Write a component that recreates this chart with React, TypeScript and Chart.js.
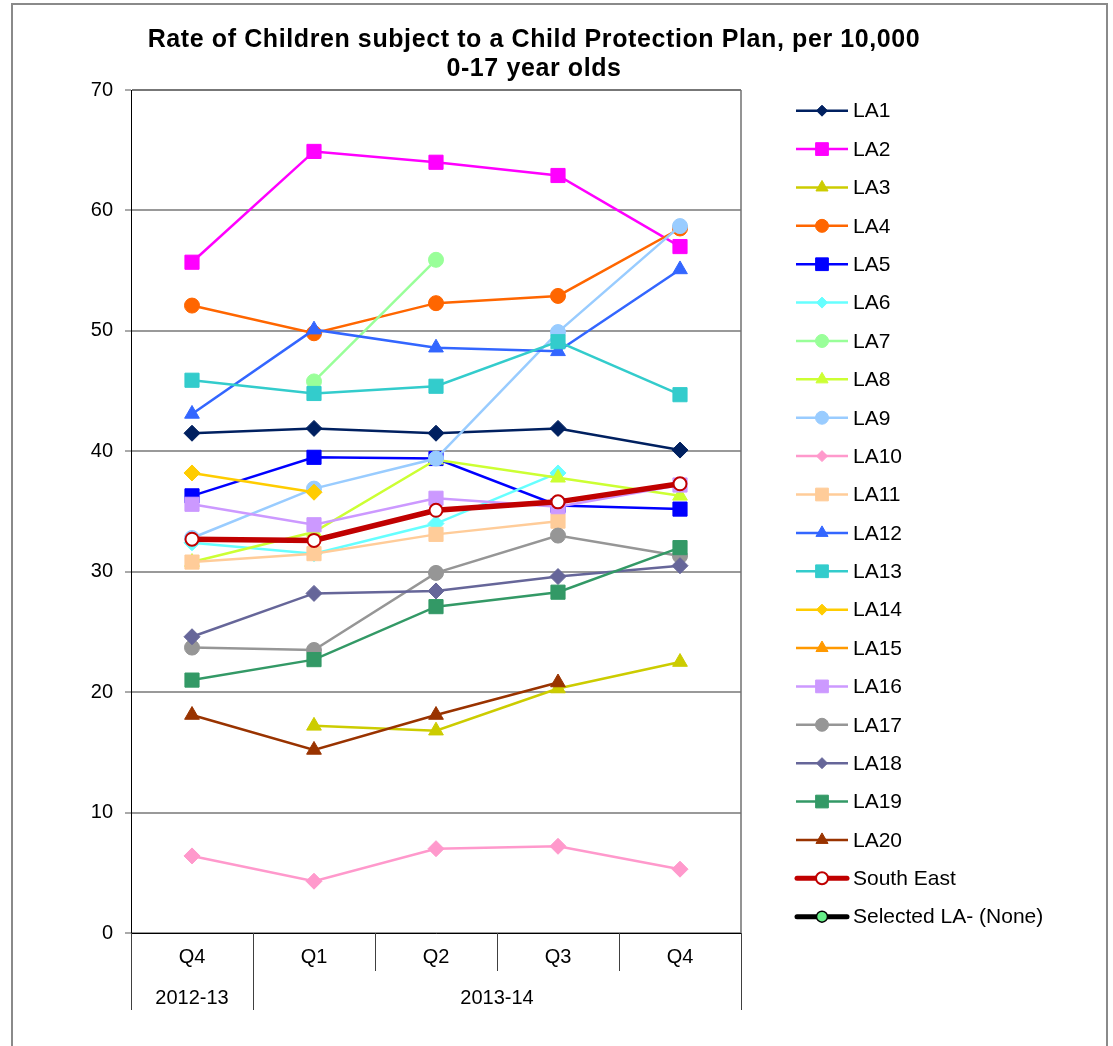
import React, { useEffect, useRef } from 'react';
import { Chart, registerables } from 'chart.js';

Chart.register(...registerables);

// ---------- DATA ----------
const categories = ['Q4', 'Q1', 'Q2', 'Q3', 'Q4'];
const yearGroups = ['2012-13', '2013-14'];
const yearSpans = [1, 4];
const titleLines = [
  'Rate of Children subject to a Child Protection Plan, per 10,000',
  '0-17 year olds',
];
const yMin = 0;
const yMax = 70;
const yStep = 10;

const seriesNames = [
  'LA1', 'LA2', 'LA3', 'LA4', 'LA5', 'LA6', 'LA7', 'LA8', 'LA9', 'LA10',
  'LA11', 'LA12', 'LA13', 'LA14', 'LA15', 'LA16', 'LA17', 'LA18', 'LA19', 'LA20',
  'South East', 'Selected LA- (None)',
];

const la1 = [41.5, 41.9, 41.5, 41.9, 40.1];
const la2 = [55.7, 64.9, 64.0, 62.9, 57.0];
const la3 = [null, 17.2, 16.8, 20.3, 22.5];
const la4 = [52.1, 49.8, 52.3, 52.9, 58.5];
const la5 = [36.3, 39.5, 39.4, 35.5, 35.2];
const la6 = [32.4, 31.5, 34.0, 38.2, null];
const la7 = [null, 45.8, 55.9, null, null];
const la8 = [30.8, 33.3, 39.3, 37.8, 36.3];
const la9 = [32.8, 36.9, 39.4, 49.9, 58.7];
const la10 = [6.4, 4.3, 7.0, 7.2, 5.3];
const la11 = [30.8, 31.5, 33.1, 34.2, null];
const la12 = [43.1, 50.1, 48.6, 48.3, 55.1];
const la13 = [45.9, 44.8, 45.4, 49.1, 44.7];
const la14 = [38.2, 36.6, null, null, null];
const la15 = [null, null, null, null, null];
const la16 = [35.6, 33.9, 36.1, 35.4, 37.2];
const la17 = [23.7, 23.5, 29.9, 33.0, 31.3];
const la18 = [24.6, 28.2, 28.4, 29.6, 30.5];
const la19 = [21.0, 22.7, 27.1, 28.3, 32.0];
const la20 = [18.1, 15.2, 18.1, 20.8, null];
const southEast = [32.7, 32.6, 35.1, 35.8, 37.3];
const selectedLA = [null, null, null, null, null];

const seriesValues = [
  la1, la2, la3, la4, la5, la6, la7, la8, la9, la10,
  la11, la12, la13, la14, la15, la16, la17, la18, la19, la20,
  southEast, selectedLA,
];

// ---------- STYLES ----------
const seriesColors = [
  '#002060', '#FF00FF', '#CCCC00', '#FF6600', '#0000FF', '#66FFFF', '#99FF99', '#CCFF33', '#99CCFF', '#FF99CC',
  '#FFCC99', '#3366FF', '#33CCCC', '#FFCC00', '#FF9900', '#CC99FF', '#969696', '#666699', '#339966', '#993300',
  '#C00000', '#000000',
];
const seriesMarkers = [
  'rectRot', 'rect', 'triangle', 'circle', 'rect', 'rectRot', 'circle', 'triangle', 'circle', 'rectRot',
  'rect', 'triangle', 'rect', 'rectRot', 'triangle', 'rect', 'circle', 'rectRot', 'rect', 'triangle',
  'circle', 'circle',
];
const plotRadius: Record<string, number> = { circle: 7.5, rect: 10, rectRot: 8, triangle: 8.5 };
const legendRadius: Record<string, number> = { circle: 6.5, rect: 9, rectRot: 5.5, triangle: 7 };

const FONT = '"Liberation Sans", Arial, Helvetica, sans-serif';
const W = 1113;
const H = 1046;
const PLOT = { left: 131, top: 90, right: 741, bottom: 933 };

function drawMarker(
  ctx: CanvasRenderingContext2D, style: string, x: number, y: number, r: number,
  fill: string, stroke: string, lw: number,
) {
  ctx.beginPath();
  if (style === 'circle') {
    ctx.arc(x, y, r, 0, Math.PI * 2);
  } else if (style === 'rect') {
    const s = r * Math.SQRT1_2;
    ctx.rect(x - s, y - s, 2 * s, 2 * s);
  } else if (style === 'rectRot') {
    ctx.moveTo(x - r, y);
    ctx.lineTo(x, y - r);
    ctx.lineTo(x + r, y);
    ctx.lineTo(x, y + r);
    ctx.closePath();
  } else {
    ctx.moveTo(x, y - r);
    ctx.lineTo(x + r * 0.866, y + r / 2);
    ctx.lineTo(x - r * 0.866, y + r / 2);
    ctx.closePath();
  }
  ctx.fillStyle = fill;
  ctx.fill();
  if (lw > 0) {
    ctx.lineWidth = lw;
    ctx.strokeStyle = stroke;
    ctx.stroke();
  }
}

const decorPlugin = {
  id: 'decor',
  beforeDraw(chart: any) {
    const ctx: CanvasRenderingContext2D = chart.ctx;
    ctx.save();
    ctx.fillStyle = '#ffffff';
    ctx.fillRect(0, 0, chart.width, chart.height);
    ctx.strokeStyle = '#8a8a8a';
    ctx.lineWidth = 2;
    ctx.strokeRect(12, 4, 1095, chart.height + 20);
    ctx.restore();
  },
  afterDraw(chart: any) {
    const ctx: CanvasRenderingContext2D = chart.ctx;
    const area = chart.chartArea;
    const xs = chart.scales.x;
    ctx.save();

    // plot area right border
    ctx.strokeStyle = '#707070';
    ctx.lineWidth = 1.5;
    ctx.beginPath();
    ctx.moveTo(area.right, area.top);
    ctx.lineTo(area.right, area.bottom);
    ctx.stroke();

    // title
    ctx.fillStyle = '#000';
    ctx.font = `bold 25px ${FONT}`;
    ctx.textAlign = 'center';
    ctx.textBaseline = 'alphabetic';
    (ctx as any).letterSpacing = '0.6px';
    ctx.fillText(titleLines[0], 534, 47);
    ctx.fillText(titleLines[1], 534, 76);
    (ctx as any).letterSpacing = '0px';

    // category separators & year groups
    const step = xs.getPixelForValue(1) - xs.getPixelForValue(0);
    const edges: number[] = [0];
    let acc = 0;
    yearSpans.forEach((s) => { acc += s; edges.push(acc); });
    ctx.strokeStyle = '#404040';
    ctx.lineWidth = 1;
    for (let i = 0; i <= categories.length; i++) {
      const x = Math.round(xs.getPixelForValue(i) - step / 2) + 0.5;
      const long = edges.includes(i);
      ctx.beginPath();
      ctx.moveTo(x, area.bottom);
      ctx.lineTo(x, area.bottom + (long ? 77 : 38));
      ctx.stroke();
    }
    ctx.font = `20px ${FONT}`;
    ctx.textBaseline = 'middle';
    ctx.textAlign = 'center';
    ctx.fillStyle = '#000';
    let start = 0;
    yearGroups.forEach((g, gi) => {
      const end = start + yearSpans[gi] - 1;
      const cx = (xs.getPixelForValue(start) + xs.getPixelForValue(end)) / 2;
      ctx.fillText(g, cx, area.bottom + 65);
      start += yearSpans[gi];
    });

    // legend
    const lx0 = 796;
    const lx1 = 848;
    const ly0 = 110.7;
    const dy = 38.38;
    ctx.textAlign = 'left';
    ctx.font = `21px ${FONT}`;
    chart.data.datasets.forEach((ds: any, i: number) => {
      const y = ly0 + dy * i;
      const thick = ds.borderWidth > 3;
      ctx.strokeStyle = ds.borderColor;
      ctx.lineWidth = thick ? 5 : 2.5;
      ctx.lineCap = thick ? 'round' : 'butt';
      ctx.beginPath();
      ctx.moveTo(lx0 + (thick ? 1 : 0), y);
      ctx.lineTo(lx1 - (thick ? 1 : 0), y);
      ctx.stroke();
      ctx.lineCap = 'butt';
      const style = ds.pointStyle;
      if (thick) {
        drawMarker(ctx, 'circle', (lx0 + lx1) / 2, y, i === 20 ? 6 : 5.5, ds.pointBackgroundColor, ds.pointBorderColor, i === 20 ? 2 : 1.5);
      } else {
        drawMarker(ctx, style, (lx0 + lx1) / 2, y, legendRadius[style], ds.pointBackgroundColor, ds.pointBorderColor, 1);
      }
      ctx.fillStyle = '#000';
      ctx.fillText(ds.label, 853, y + 1);
    });

    ctx.restore();
  },
};

export default function App() {
  const canvasRef = useRef<HTMLCanvasElement | null>(null);

  useEffect(() => {
    if (!canvasRef.current) return;
    const datasets = seriesNames.map((name, i) => {
      const color = seriesColors[i];
      const marker = seriesMarkers[i];
      const isSE = i === 20;
      const isSel = i === 21;
      return {
        label: name,
        data: seriesValues[i],
        borderColor: color,
        backgroundColor: color,
        borderWidth: isSE || isSel ? 5.5 : 2.5,
        pointStyle: marker,
        pointRadius: isSE ? 6.5 : plotRadius[marker],
        pointBackgroundColor: isSE ? '#ffffff' : isSel ? '#66EE88' : color,
        pointBorderColor: isSE ? '#C00000' : color,
        pointBorderWidth: isSE ? 2 : 1,
        tension: 0,
        spanGaps: false,
        order: -i,
      };
    });

    const chart = new Chart(canvasRef.current, {
      type: 'line',
      data: { labels: categories, datasets },
      options: {
        responsive: false,
        animation: false,
        events: [],
        layout: {
          padding: { top: PLOT.top, right: W - PLOT.right, bottom: 0, left: 0 },
        },
        plugins: {
          legend: { display: false },
          title: { display: false },
          tooltip: { enabled: false },
        },
        scales: {
          x: {
            type: 'category',
            offset: true,
            grid: { display: false, drawTicks: false },
            border: { display: true, color: '#000000', width: 1 },
            ticks: {
              color: '#000',
              font: { family: FONT, size: 20 },
              padding: 12,
              maxRotation: 0,
              autoSkip: false,
            },
            afterFit: (s: any) => { s.height = H - PLOT.bottom; },
          },
          y: {
            min: yMin,
            max: yMax,
            ticks: {
              stepSize: yStep,
              color: '#000',
              font: { family: FONT, size: 20 },
              padding: 12,
            },
            grid: {
              color: (c: any) => (c.tick && c.tick.value === yMax ? '#777777' : '#999999'),
              lineWidth: 2,
              tickLength: 6,
              tickColor: '#555555',
              tickWidth: 1,
            },
            border: { display: true, color: '#000000', width: 1 },
            afterFit: (s: any) => { s.width = PLOT.left; },
          },
        },
      },
      plugins: [decorPlugin],
    });

    return () => chart.destroy();
  }, []);

  return (
    <div style={{ position: 'absolute', left: 0, top: 0, width: W, height: H, background: '#fff' }}>
      <canvas ref={canvasRef} width={W} height={H} style={{ display: 'block' }} />
    </div>
  );
}
